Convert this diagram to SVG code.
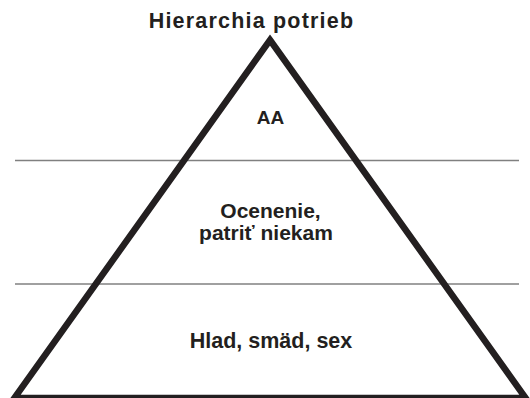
<svg xmlns="http://www.w3.org/2000/svg" width="530" height="398" viewBox="0 0 530 398">
<style>
.t{font-family:"Liberation Sans",Arial,sans-serif;font-weight:700;fill:#231f20;text-anchor:middle}
.sep{stroke:#808080;stroke-width:1.5;fill:none}
</style>
<rect width="530" height="398" fill="#ffffff"/>
<g id="title"><text class="t" x="251.5" y="27.5" font-size="21.5" letter-spacing="1.2">Hierarchia potrieb</text></g>
<g id="connectors">
<line class="sep" x1="15" y1="160.5" x2="519" y2="160.5"/>
<line class="sep" x1="15" y1="284" x2="519" y2="284"/>
</g>
<g id="pyramid"><path d="M270,40 L525.6,398 L14.4,398 Z" fill="none" stroke="#231f20" stroke-width="6.5" stroke-linejoin="miter"/></g>
<g id="level-top"><text class="t" x="270.5" y="123.5" font-size="19">AA</text></g>
<g id="level-middle"><text class="t" x="270.5" y="217.5" font-size="21">Ocenenie,</text><text class="t" x="266" y="239.5" font-size="21">patriť niekam</text></g>
<g id="level-bottom"><text class="t" x="271" y="347.5" font-size="21.5">Hlad, smäd, sex</text></g>
</svg>
